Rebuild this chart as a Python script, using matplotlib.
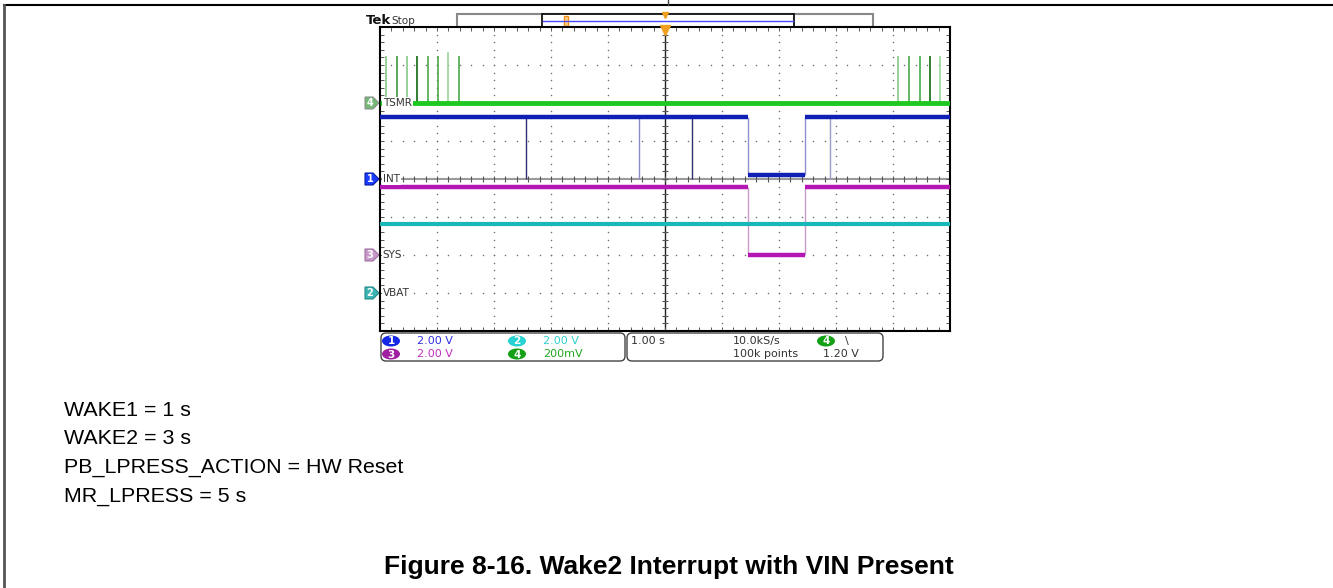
import matplotlib.pyplot as plt
from matplotlib.patches import Polygon, Rectangle, Ellipse, FancyBboxPatch
import numpy as np

W, H = 1333, 588

# ---- channel setup: volts/div and position (div)
ch_names = ['INT', 'VBAT', 'SYS', 'TSMR']
ch_nums = ['1', '2', '3', '4']
ch_scale = [2.0, 2.0, 2.0, 0.2]
ch_pos = [0.0, -3.0, -2.0, 2.0]

# INT (ch1) levels in V between time edges (s)
int_edges = [-5.0, 1.46, 2.46, 5.0]
int_levels = [3.26, 0.2, 3.26]
int_glitch_t = [-2.44, -0.46, 0.47, 2.89]

# SYS (ch3)
sys_edges = [-5.0, 1.46, 2.46, 5.0]
sys_levels = [3.58, 0.0, 3.58]

# VBAT (ch2)
vbat_level = 3.64

# TSMR (ch4)
tsmr_level = 0.0
tsmr_spike_t = [-4.89, -4.70, -4.53, -4.35, -4.16, -3.98, -3.81, -3.61,
                4.09, 4.28, 4.47, 4.65, 4.82]
tsmr_spike_v = [0.25, 0.25, 0.25, 0.25, 0.25, 0.25, 0.27, 0.25,
                0.25, 0.25, 0.25, 0.25, 0.25]

# readout text
scale_txt = ['2.00 V', '2.00 V', '2.00 V', '200mV']
time_txt = ['1.00 s', '10.0kS/s', '100k points', '1.20 V']

doc_lines = ['WAKE1 = 1 s', 'WAKE2 = 3 s', 'PB_LPRESS_ACTION = HW Reset', 'MR_LPRESS = 5 s']
caption = 'Figure 8-16. Wake2 Interrupt with VIN Present'

c_blue = '#1020b4'
c_cyan = '#18b8b8'
c_mag = '#b416b4'
c_green = '#1ec81e'


def ydiv(ch, v):
    return ch_pos[ch] + np.asarray(v) / ch_scale[ch]


fig = plt.figure(figsize=(W / 100, H / 100), dpi=100)

# overlay in pixel coords for page items
ov = fig.add_axes([0, 0, 1, 1], zorder=0)
ov.set_xlim(0, W)
ov.set_ylim(H, 0)
ov.axis('off')

# scope graticule
ax = fig.add_axes([380 / W, 1 - 331 / H, 570 / W, 304 / H], zorder=2)
ax.set_xlim(-5, 5)
ax.set_ylim(-4, 4)
minor = np.round(np.arange(-5, 5.01, 0.2), 2)
minor_y = np.round(np.arange(-4, 4.01, 0.2), 2)
ax.set_xticks(minor)
ax.set_yticks(minor_y)
ax.tick_params(direction='in', length=3, width=0.7, color='#555', top=True, right=True,
               labelbottom=False, labelleft=False)
for s in ax.spines.values():
    s.set_linewidth(1.5)

# dotted grid
for gx in range(-4, 5):
    if gx != 0:
        ax.scatter(np.full(len(minor_y), gx), minor_y, s=1.2, color='#707070', lw=0, zorder=1)
for gy in range(-3, 4):
    if gy != 0:
        ax.scatter(minor, np.full(len(minor), gy), s=1.2, color='#707070', lw=0, zorder=1)
ax.axvline(0, color='#222', lw=1, zorder=1)
ax.axhline(0, color='#9a9a9a', lw=1.5, zorder=1)
ax.plot(minor, np.zeros(len(minor)), ls='none', marker='|', ms=5, mew=0.8, color='#555', zorder=1)
ax.plot(np.zeros(len(minor_y)), minor_y, ls='none', marker='_', ms=5, mew=0.8, color='#555', zorder=1)

# VBAT
ax.hlines(ydiv(1, vbat_level), -5, 5, color=c_cyan, lw=3, zorder=3)

# SYS
ys = ydiv(2, sys_levels)
ax.hlines(ys, sys_edges[:-1], sys_edges[1:], color=c_mag, lw=3.2, zorder=3)
ax.vlines(sys_edges[1:-1], ydiv(2, min(sys_levels)), ydiv(2, max(sys_levels)),
          color='#c89ac8', lw=1, zorder=2)

# INT
yi = ydiv(0, int_levels)
ax.vlines(int_glitch_t, ydiv(0, 0.0), ydiv(0, max(int_levels)),
          colors=['#303070', '#8a8ac8', '#303070', '#9a9ac8'], lw=1, zorder=2)
ax.hlines(yi, int_edges[:-1], int_edges[1:], color=c_blue, lw=3.2, zorder=3)
ax.vlines(int_edges[1:-1], ydiv(0, min(int_levels)), ydiv(0, max(int_levels)),
          color='#9090d0', lw=1, zorder=2)

# TSMR
spike_cols = ['#86c886', '#3a9a3a', '#86c886', '#0e6a0e', '#4aa84a', '#4aa84a', '#9ad49a', '#4aa84a',
              '#86c886', '#4aa84a', '#4aa84a', '#0e6a0e', '#9ad49a']
ax.vlines(tsmr_spike_t, ydiv(3, tsmr_level), ydiv(3, tsmr_spike_v), colors=spike_cols, lw=1.2, zorder=2)
ax.hlines(ydiv(3, tsmr_level), -5, 5, color=c_green, lw=3.5, zorder=3)

# trace labels inside the graticule
for i, nm in enumerate(ch_names):
    ax.text(-4.95, ch_pos[i], nm, fontsize=7.5, color='#333', va='center', ha='left', zorder=5,
            bbox=dict(fc='white', ec='none', pad=0.6))

# trigger position marker
ax.plot([0], [3.93], marker='v', ms=7, color='#f0a020', clip_on=False, zorder=6)

# ---- channel tags on the left
tag_fc = ['#1a3cff', '#3cb4b4', '#c898c8', '#74b874']
tag_ec = ['#0a1aa0', '#2a8a8a', '#a070a0', '#909090']
for i in range(4):
    yp = 179 - ch_pos[i] * 38
    ov.add_patch(Polygon([(365, yp - 6), (373, yp - 6), (379, yp), (373, yp + 6), (365, yp + 6)],
                         closed=True, fc=tag_fc[i], ec=tag_ec[i], lw=0.8))
    ov.text(370, yp + 0.5, ch_nums[i], fontsize=7, color='white', ha='center', va='center',
            fontweight='bold')

# ---- header
ov.text(366, 21, 'Tek', fontsize=9.5, fontweight='bold', color='#111', va='center', ha='left')
ov.text(391, 21, 'Stop', fontsize=7.5, color='#333', va='center', ha='left')
ov.add_patch(Rectangle((457, 14), 416, 13, fc='white', ec='#888', lw=1.5))
ov.add_patch(Rectangle((542, 14), 252, 13, fc='white', ec='#111', lw=1.3))
ov.plot([543, 793], [20.5, 20.5], color='#4848ff', lw=1)
ov.add_patch(Rectangle((564, 16), 4, 10, fc='#ffd090', ec='#f09010', lw=1))
ov.plot([665], [15], marker='v', ms=5, color='#f0a020')

# ---- readout boxes
ov.add_patch(FancyBboxPatch((381, 333), 244, 28, boxstyle='round,pad=0,rounding_size=5',
                            fc='white', ec='#444', lw=1))
ov.add_patch(FancyBboxPatch((627, 333), 256, 28, boxstyle='round,pad=0,rounding_size=5',
                            fc='white', ec='#444', lw=1))
oval_fc = ['#1428e6', '#28d2d2', '#a01ea0', '#14a014']
txt_col = ['#3030e0', '#30d0d0', '#c030c0', '#20a820']
oval_xy = [(391, 341), (517, 341), (391, 354), (517, 354)]
for i in range(4):
    ox, oy = oval_xy[i]
    ov.add_patch(Ellipse((ox, oy), 18, 11, fc=oval_fc[i], ec='none'))
    ov.text(ox, oy + 0.5, ch_nums[i], fontsize=7.5, color='white', ha='center', va='center',
            fontweight='bold')
    ov.text(ox + 26, oy, scale_txt[i], fontsize=8, color=txt_col[i], ha='left', va='center')

ov.text(631, 341, time_txt[0], fontsize=8, color='#333', ha='left', va='center')
ov.text(733, 341, time_txt[1], fontsize=8, color='#333', ha='left', va='center')
ov.text(733, 354, time_txt[2], fontsize=8, color='#333', ha='left', va='center')
ov.text(823, 354, time_txt[3], fontsize=8, color='#333', ha='left', va='center')
ov.add_patch(Ellipse((826, 341), 18, 11, fc=oval_fc[3], ec='none'))
ov.text(826, 341.5, '4', fontsize=7.5, color='white', ha='center', va='center', fontweight='bold')
ov.text(845, 341, '\\', fontsize=8, color='#333', ha='left', va='center')

# ---- page frame
ov.plot([4, W], [4.5, 4.5], color='black', lw=1.5)
ov.plot([4, 4], [4.5, H], color='#555', lw=2)
ov.plot([668, 668], [0, 4.5], color='#444', lw=1)

# ---- document text
for i, line in enumerate(doc_lines):
    ov.text(64, 410 + i * 28.7, line, fontsize=15.4, family='Liberation Sans', ha='left', va='center')
ov.text(669, 567, caption, fontsize=19, family='Liberation Sans', fontweight='bold',
        ha='center', va='center')

fig.savefig('out.png', dpi=100)
